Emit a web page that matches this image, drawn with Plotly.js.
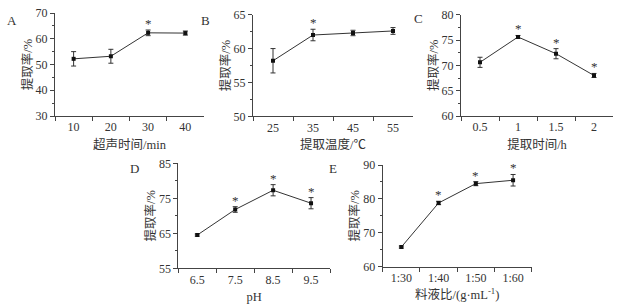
<!DOCTYPE html>
<html><head><meta charset="utf-8">
<script src="https://cdn.plot.ly/plotly-3.0.1.min.js"></script>
<style>html,body{margin:0;padding:0;background:#fff}#chart{width:619px;height:308px}</style>
</head><body><div id="chart"></div>
<script>
// ---- data ----
const catA = ['10','20','30','40'];
const valA = [52.2, 53.2, 62.3, 62.2];
const errA = [2.8, 2.7, 1.1, 0.8];
const starA = [0, 0, 1, 0];

const catB = ['25','35','45','55'];
const valB = [58.2, 62.0, 62.3, 62.6];
const errB = [1.8, 0.85, 0.4, 0.5];
const starB = [0, 1, 0, 0];

const catC = ['0.5','1','1.5','2'];
const valC = [70.6, 75.6, 72.3, 68.0];
const errC = [1.0, 0.3, 1.0, 0.4];
const starC = [0, 1, 1, 1];

const catD = ['6.5','7.5','8.5','9.5'];
const valD = [64.5, 71.8, 77.3, 73.6];
const errD = [0.3, 0.8, 1.6, 1.6];
const starD = [0, 1, 1, 1];

const catE = ['1:30','1:40','1:50','1:60'];
const valE = [65.8, 78.8, 84.5, 85.5];
const errE = [0.3, 0.5, 0.6, 1.7];
const starE = [0, 1, 1, 1];

const xTitles = ['超声时间/min', '提取温度/℃', '提取时间/h', 'pH', '料液比/(g·mL<sup>-1</sup>)'];
const yTitle = '提取率/%';
const letters = ['A','B','C','D','E'];
const yRanges = [[30,70],[50,65],[60,80],[55,85],[60,90]];
const yDticks = [10, 5, 5, 10, 10];

// ---- layout geometry (pixels) ----
const W = 619, H = 308;
const boxes = [
  [55, 204, 13, 116],
  [253, 413, 14.7, 116.3],
  [461, 613, 14.7, 116],
  [178.3, 330, 163.3, 268.3],
  [382.7, 531.7, 165, 266.7]
];
const letterPos = [[12, 20], [205, 20], [418, 19], [134, 168], [333, 168]];

const FONT = '"Liberation Serif", "Noto Sans CJK SC", serif';
const INK = '#333';

const series = [
  [catA, valA, errA, starA],
  [catB, valB, errB, starB],
  [catC, valC, errC, starC],
  [catD, valD, errD, starD],
  [catE, valE, errE, starE]
];

const traces = [];
const annotations = [];
const layout = {
  width: W, height: H,
  margin: {l: 0, r: 0, t: 0, b: 0},
  paper_bgcolor: '#fff', plot_bgcolor: '#fff',
  showlegend: false,
  font: {family: FONT, size: 12, color: INK}
};

series.forEach((s, i) => {
  const n = i === 0 ? '' : String(i + 1);
  const [cats, vals, errs, stars] = s;
  traces.push({
    type: 'scatter', mode: 'lines+markers',
    x: cats, y: vals,
    xaxis: 'x' + n, yaxis: 'y' + n,
    line: {color: INK, width: 1},
    marker: {color: '#111', size: 4, symbol: 'square'},
    error_y: {type: 'data', array: errs, visible: true, color: INK, thickness: 1, width: 2.5}
  });
  const b = boxes[i];
  layout['xaxis' + n] = {
    domain: [b[0] / W, b[1] / W],
    anchor: 'y' + n,
    type: 'category',
    categoryorder: 'array', categoryarray: cats,
    range: [-0.5, 3.5],
    showline: true, linecolor: '#444', linewidth: 1,
    ticks: 'outside', ticklen: 4, tickcolor: '#444', tickson: 'boundaries',
    showgrid: false, zeroline: false,
    tickfont: {family: FONT, size: 12, color: INK},
    title: {text: xTitles[i], font: {family: FONT, size: 12.5, color: INK}, standoff: 6}
  };
  layout['yaxis' + n] = {
    domain: [1 - b[3] / H, 1 - b[2] / H],
    anchor: 'x' + n,
    range: yRanges[i],
    dtick: yDticks[i], tick0: yRanges[i][0],
    showline: true, linecolor: '#444', linewidth: 1,
    ticks: 'outside', ticklen: 4, tickcolor: '#444',
    minor: {dtick: yDticks[i] / 2, ticks: 'outside', ticklen: 2, tickcolor: '#444', showgrid: false},
    showgrid: false, zeroline: false,
    tickfont: {family: FONT, size: 12, color: INK},
    title: {text: yTitle, font: {family: FONT, size: 12.5, color: INK}, standoff: 0}
  };
  stars.forEach((st, k) => {
    if (!st) return;
    annotations.push({
      xref: 'x' + n, yref: 'y' + n,
      x: k, y: vals[k] + errs[k],
      text: '*', showarrow: false,
      yanchor: 'bottom', yshift: -3,
      font: {family: FONT, size: 13, color: INK}
    });
  });
  annotations.push({
    xref: 'paper', yref: 'paper',
    x: letterPos[i][0] / W, y: 1 - letterPos[i][1] / H,
    text: letters[i], showarrow: false,
    xanchor: 'center', yanchor: 'middle',
    font: {family: FONT, size: 13, color: INK}
  });
});
layout.annotations = annotations;

Plotly.newPlot('chart', traces, layout, {staticPlot: true, displayModeBar: false});
</script>
</body></html>
